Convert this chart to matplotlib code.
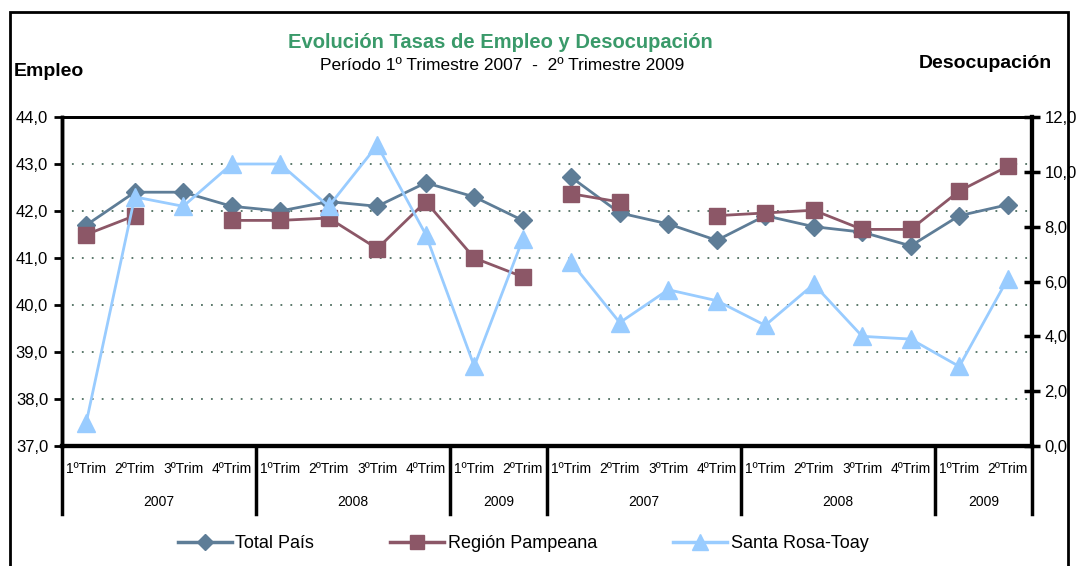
import numpy as np
import matplotlib

matplotlib.use("Agg")
import matplotlib.pyplot as plt
from matplotlib.lines import Line2D
from matplotlib.patches import Rectangle

nan = np.nan

trims = ["1ºTrim", "2ºTrim", "3ºTrim", "4ºTrim"]
years = ["2007", "2008", "2009", "2007", "2008", "2009"]
year_sizes = [4, 4, 2, 4, 4, 2]

# Empleo (left axis), slots 1-10
emp_total = [41.7, 42.4, 42.4, 42.1, 42.0, 42.2, 42.1, 42.6, 42.3, 41.8]
emp_pampeana = [41.5, 41.9, nan, 41.8, 41.8, 41.85, 41.2, 42.2, 41.0, 40.6]
emp_santarosa = [37.5, 42.3, 42.1, 43.0, 43.0, 42.1, 43.4, 41.5, 38.7, 41.4]

# Desocupación (right axis), slots 11-20
des_total = [9.8, 8.5, 8.1, 7.5, 8.4, 8.0, 7.8, 7.3, 8.4, 8.8]
des_pampeana = [9.2, 8.9, nan, 8.4, 8.5, 8.6, 7.9, 7.9, 9.3, 10.2]
des_santarosa = [6.7, 4.5, 5.7, 5.3, 4.4, 5.9, 4.0, 3.9, 2.9, 6.1]

series = [
    ("Total País", emp_total, des_total, "#5E7D97", "D", 9.5),
    ("Región Pampeana", emp_pampeana, des_pampeana, "#8C5767", "s", 11.5),
    ("Santa Rosa-Toay", emp_santarosa, des_santarosa, "#99CCFF", "^", 13),
]

W, H = 1077, 566
fig = plt.figure(figsize=(W / 100, H / 100), dpi=100)
plt.rcParams["font.family"] = ["Liberation Sans", "DejaVu Sans"]

x0, x1, ytop, ybot = 62, 1032, 117, 446
ax = fig.add_axes([x0 / W, 1 - ybot / H, (x1 - x0) / W, (ybot - ytop) / H])
ax2 = ax.twinx()

n = 20
xs = np.arange(n)
ax.set_xlim(-0.5, n - 0.5)
ax.set_ylim(37, 44)
ax2.set_ylim(0, 12)

for yv in range(38, 44):
    ax.axhline(yv, color="#4E6E60", linestyle=(0, (1, 4.5)), linewidth=1.3, zorder=1)

for name, emp, des, col, mk, ms in series:
    left = list(emp) + [nan] * 10
    right = [nan] * 10 + list(des)
    ax.plot(xs, left, color=col, marker=mk, markersize=ms, linewidth=2, zorder=3)
    ax2.plot(xs, right, color=col, marker=mk, markersize=ms, linewidth=2, zorder=3)

ax.set_yticks(np.arange(37, 45))
ax.set_yticklabels([f"{v},0" for v in range(37, 45)], fontsize=12)
ax2.set_yticks(np.arange(0, 13, 2))
ax2.set_yticklabels([f"{v},0" for v in range(0, 13, 2)], fontsize=12)
ax.tick_params(axis="y", direction="out", length=6, width=2, pad=4)
ax2.tick_params(axis="y", direction="inout", length=12, width=2.5, pad=3)
ax.set_xticks([])

for a in (ax, ax2):
    for s in a.spines.values():
        s.set_color("black")
    a.spines["left"].set_linewidth(2.5)
    a.spines["bottom"].set_linewidth(3)
    a.spines["top"].set_linewidth(2)
    a.spines["right"].set_linewidth(3)

# two-level category axis
trans = ax.get_xaxis_transform()
labels = (trims * 2 + trims[:2]) * 2
for i, lab in enumerate(labels):
    ax.text(xs[i], -0.07, lab, transform=trans, ha="center", va="center", fontsize=10, clip_on=False)

pos = -0.5
bounds = [pos]
for yr, sz in zip(years, year_sizes):
    ax.text(pos + sz / 2, -0.17, yr, transform=trans, ha="center", va="center", fontsize=10, clip_on=False)
    pos += sz
    bounds.append(pos)
for b in bounds:
    ax.add_line(Line2D([b, b], [0, -0.207], transform=trans, color="black", linewidth=2.5, clip_on=False))

# titles
fig.text(500 / W, 1 - 42 / H, "Evolución Tasas de Empleo y Desocupación", ha="center", va="center",
         fontsize=14.5, fontweight="bold", color="#3A9A6A")
fig.text(502 / W, 1 - 66 / H, "Período 1º Trimestre 2007  -  2º Trimestre 2009", ha="center", va="center",
         fontsize=12.5)
fig.text(14 / W, 1 - 71 / H, "Empleo", ha="left", va="center", fontsize=14, fontweight="bold")
fig.text(1052 / W, 1 - 64 / H, "Desocupación", ha="right", va="center", fontsize=14, fontweight="bold")

# legend
handles = [Line2D([], [], color=c, marker=m, markersize=ms * 0.85, linewidth=2.5) for _, _, _, c, m, ms in series]
fig.legend(handles, [s[0] for s in series], loc="center", bbox_to_anchor=(523 / W, 1 - 544 / H), ncol=3,
           frameon=False, fontsize=13, columnspacing=4.2, handlelength=3.0, handletextpad=0.2)

# outer frame
fig.patches.append(Rectangle((10 / W, -0.05), 1058 / W, 1.05 - 12 / H, transform=fig.transFigure,
                             fill=False, edgecolor="black", linewidth=2))

fig.savefig("out.png", dpi=100)
